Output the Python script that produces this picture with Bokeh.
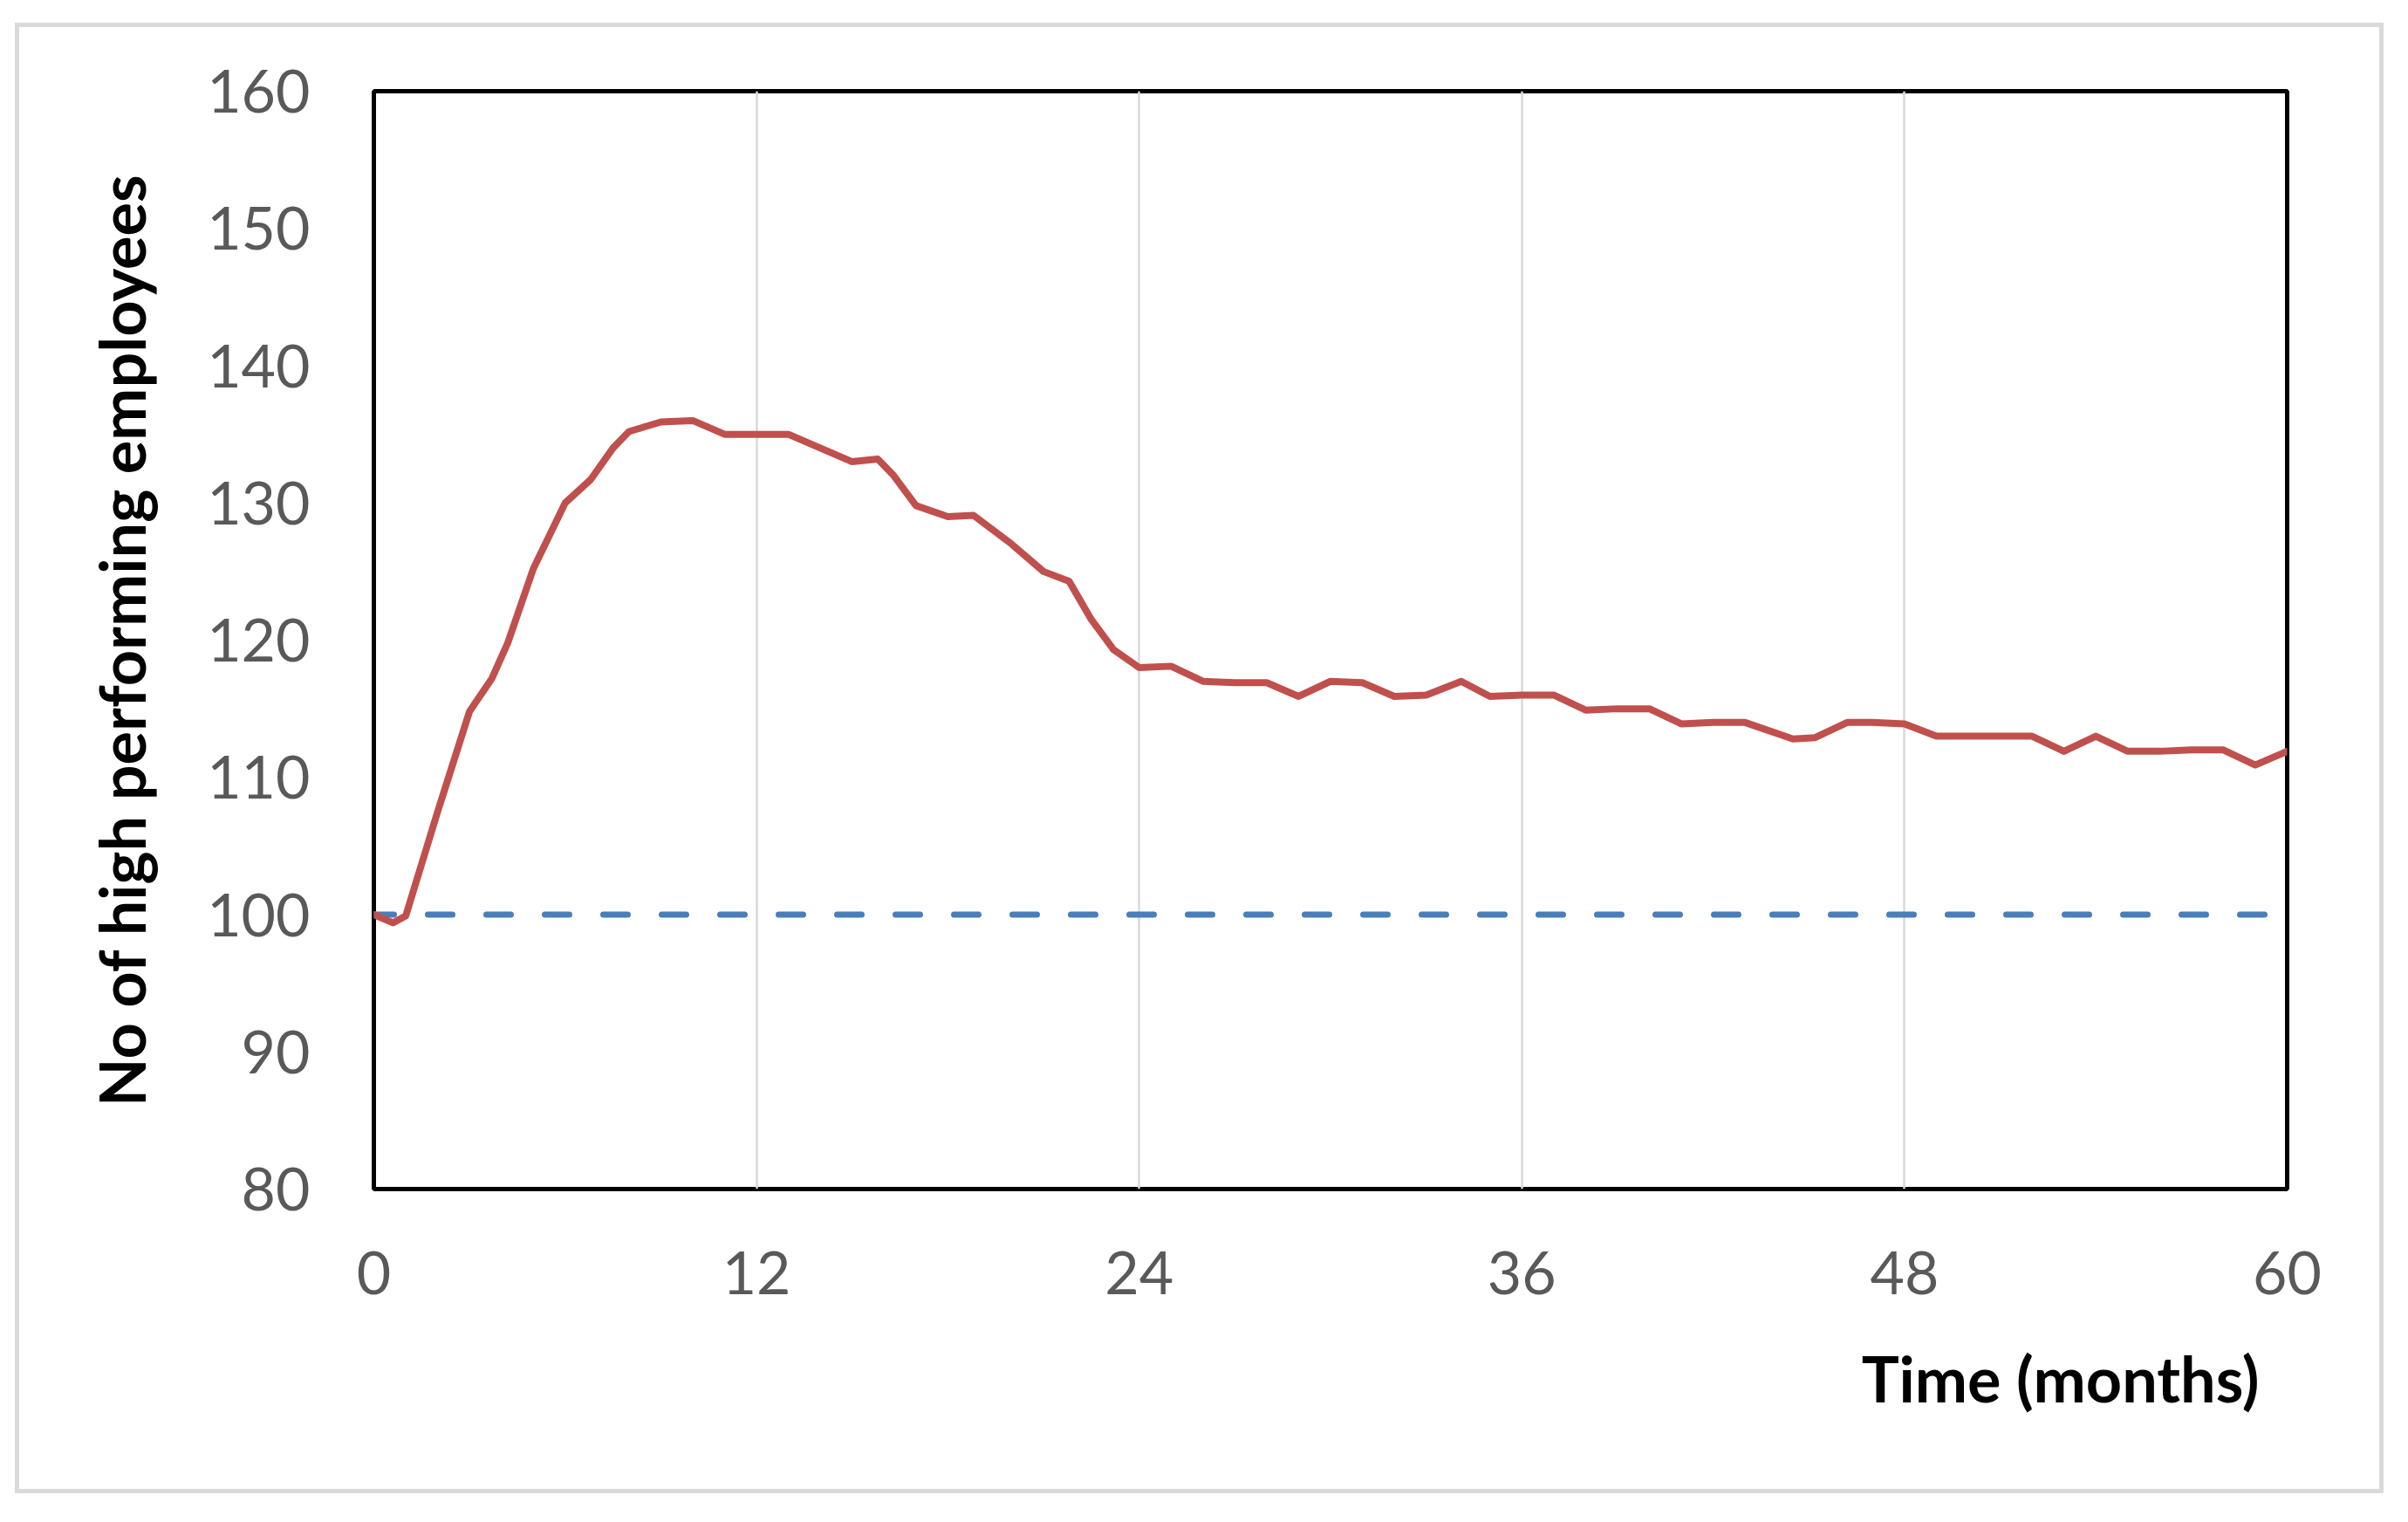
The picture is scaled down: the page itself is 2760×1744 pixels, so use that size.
from bokeh.plotting import figure
from bokeh.models import Range1d, FixedTicker, Title, InlineStyleSheet
from bokeh.embed import file_html
from bokeh.resources import INLINE

# ---- data ----
months = [0, 0.6, 1, 2, 3, 3.7, 4.2, 5, 6, 6.8, 7.5, 8, 9, 10, 11, 12, 13, 14, 15,
          15.8, 16.3, 17, 18, 18.8, 20, 21, 21.8, 22.5, 23.2, 24, 25, 26, 27, 28,
          29, 30, 31, 32, 33, 34.1, 35, 36, 37, 38, 39, 40, 41, 42, 43, 44.5, 45.2,
          46.2, 47, 48, 49, 50, 51, 52, 53, 54, 55, 56, 57, 58, 59, 60]
high_performers = [100.0, 99.4, 99.9, 107.5, 114.8, 117.2, 119.8, 125.2, 130.0, 131.7,
                   134.0, 135.2, 135.9, 136.0, 135.0, 135.0, 135.0, 134.0, 133.0,
                   133.2, 132.0, 129.8, 129.0, 129.1, 127.0, 125.0, 124.3, 121.5,
                   119.3, 118.0, 118.1, 117.0, 116.9, 116.9, 115.9, 117.0, 116.9,
                   115.9, 116.0, 117.0, 115.9, 116.0, 116.0, 114.9, 115.0, 115.0,
                   113.9, 114.0, 114.0, 112.8, 112.9, 114.0, 114.0, 113.9, 113.0,
                   113.0, 113.0, 113.0, 111.9, 113.0, 111.9, 111.9, 112.0, 112.0,
                   110.9, 111.9]
baseline_months = [0, 60]
baseline_values = [100, 100]

x_ticks = [0, 12, 24, 36, 48, 60]
y_ticks = [80, 90, 100, 110, 120, 130, 140, 150, 160]
x_title = "Time (months)"
y_title = "No of high performing employees"

FONT = "Lato"

p = figure(width=2735, height=1705, output_backend="svg", toolbar_location=None,
           x_range=Range1d(0, 60), y_range=Range1d(80, 160),
           min_border_left=428, min_border_top=88, min_border_right=114,
           min_border_bottom=359, background_fill_color="white",
           border_fill_color="white")
p.margin = (16, 0, 0, 0)
# light grey outer box drawn over the canvas, inset from the figure edges
p.stylesheets = [InlineStyleSheet(css="""
:host { position: relative; }
:host::after {
  content: "";
  position: absolute;
  left: 17px; top: 10px; right: 3px; bottom: 10px;
  border: 5px solid #d9d9d9;
  pointer-events: none;
  z-index: 1000;
}
""")]

p.outline_line_color = "black"
p.outline_line_width = 5

for ax in (p.xaxis[0], p.yaxis[0]):
    ax.axis_line_color = None
    ax.major_tick_line_color = None
    ax.minor_tick_line_color = None
    ax.major_tick_out = 0
    ax.major_tick_in = 0
    ax.major_label_text_font = FONT
    ax.major_label_text_font_size = "68px"
    ax.major_label_text_color = "#595959"

p.xaxis.ticker = FixedTicker(ticks=x_ticks)
p.yaxis.ticker = FixedTicker(ticks=y_ticks)
p.xaxis.major_label_standoff = 71
p.yaxis.major_label_standoff = 73

p.yaxis.axis_label = y_title
p.yaxis.axis_label_text_font = FONT
p.yaxis.axis_label_text_font_style = "bold"
p.yaxis.axis_label_text_font_size = "72px"
p.yaxis.axis_label_text_color = "black"
p.yaxis.axis_label_standoff = 52

p.xgrid.grid_line_color = "#d9d9d9"
p.xgrid.grid_line_width = 2.5
p.ygrid.grid_line_color = None

p.line(baseline_months, baseline_values, line_color="#4a7ebb", line_width=7,
       line_dash="28 39", line_dash_offset=5, line_cap="round")
p.line(months, high_performers, line_color="#c0504d", line_width=8,
       line_join="round", line_cap="round")

p.add_layout(Title(text=x_title, align="right", offset=32, standoff=96,
                   text_font=FONT, text_font_style="bold",
                   text_font_size="72px", text_color="black"), "below")

open("out.html", "w").write(file_html(p, INLINE))
